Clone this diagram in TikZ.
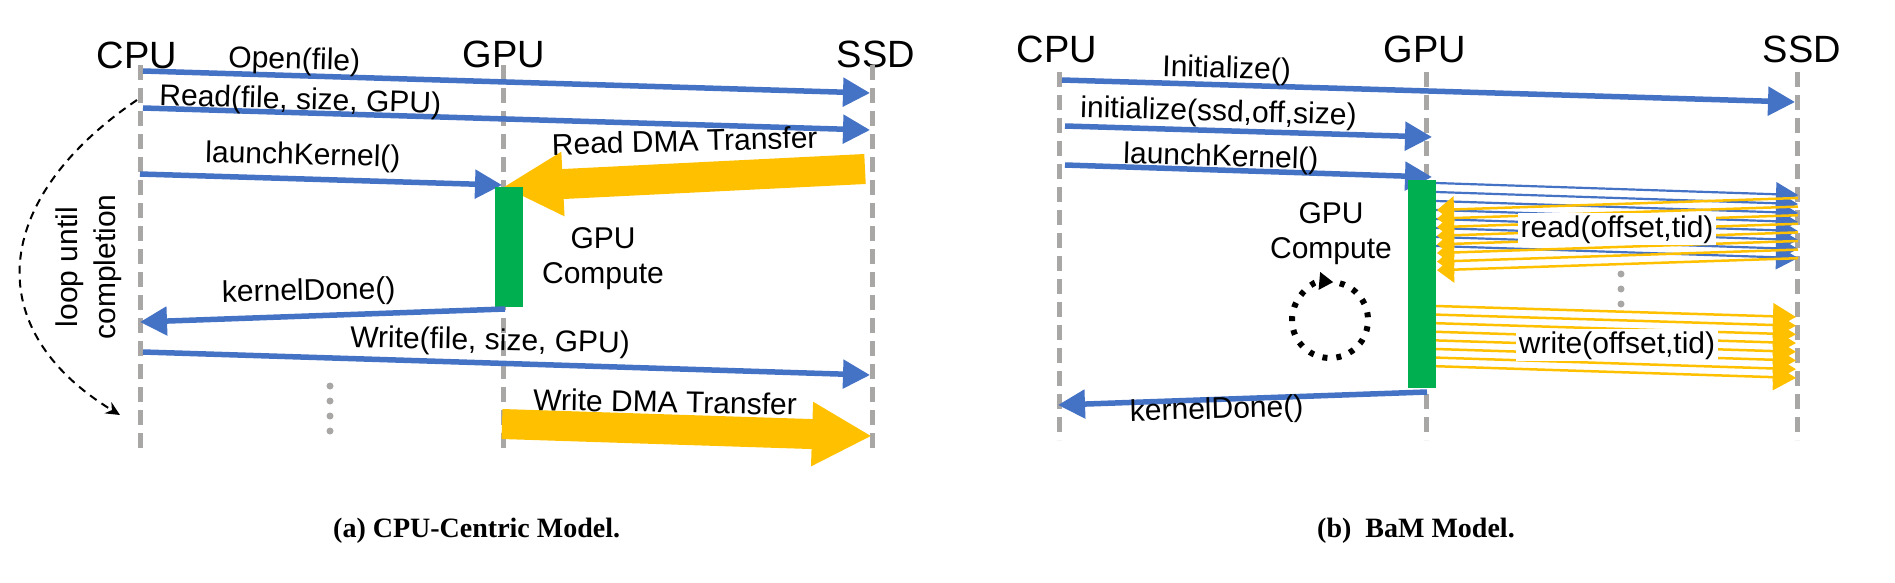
\documentclass[tikz,border=0pt]{standalone}
\usepackage{fontspec}
\setmainfont{Liberation Sans}
\newfontfamily\capfont{Liberation Serif}
\usetikzlibrary{arrows.meta}
\definecolor{mblue}{HTML}{4472C4}
\definecolor{myellow}{HTML}{FFC000}
\definecolor{mgreen}{HTML}{00B050}
\definecolor{lgray}{HTML}{A9A6A6}
\begin{document}
\begin{tikzpicture}[x=1pt,y=-1pt,
  life/.style={draw=lgray, line width=5pt, dash pattern=on 15pt off 8pt},
  msg/.style={draw=mblue, line width=5.5pt, -{Triangle[length=27pt,width=28pt]}},
  bigarrow/.style={draw=myellow, line width=30pt, -{Triangle[length=60pt,width=60pt]}},
  thinblue/.style={draw=mblue, line width=2.2pt, -{Triangle[length=22pt,width=24pt]}},
  thinyelr/.style={draw=myellow, line width=2.5pt, -{Triangle[length=17pt,width=26pt]}},
  thinyelw/.style={draw=myellow, line width=2.5pt, -{Triangle[length=23pt,width=26pt]}},
  lbl/.style={font=\fontsize{30}{36}\selectfont, inner sep=0pt, anchor=base west},
  clbl/.style={font=\fontsize{30}{36}\selectfont, inner sep=0pt, anchor=base},
  boxlbl/.style={font=\fontsize{30}{36}\selectfont, fill=white, inner xsep=3pt, inner ysep=2pt, anchor=base},
  head/.style={font=\fontsize{38}{44}\selectfont, inner sep=0pt, anchor=base},
  gbar/.style={fill=mgreen, inner sep=0pt, minimum width=28pt},
  dotc/.style={fill=lgray, circle, inner sep=0pt, minimum size=7pt},
  loopa/.style={draw=black, line width=2pt, dash pattern=on 8pt off 6pt, -{Stealth[length=14pt,width=13pt]}},
  loopc/.style={draw=black, line width=6pt, dash pattern=on 5pt off 9pt, -{Triangle[length=14pt,width=17pt]}},
  caption/.style={font=\capfont\bfseries\fontsize{28}{34}\selectfont, inner sep=0pt, anchor=base west}
]
\useasboundingbox (0,0) rectangle (1895,582);

% ---------------- panel (a) ----------------
\node[head] (hCa) at (137,68) {CPU};
\node[head] (hGa) at (504,67) {GPU};
\node[head] (hSa) at (876,67) {SSD};
\coordinate (aCt) at (140,65); \coordinate (aCb) at (140,452);
\coordinate (aGt) at (503,65); \coordinate (aGb) at (503,452);
\coordinate (aSt) at (872,65); \coordinate (aSb) at (872,452);
\draw[life] (aCt) -- (aCb);
\draw[life] (aGt) -- (aGb);
\draw[life] (aSt) -- (aSb);

\coordinate (o1) at (143,71);  \coordinate (o2) at (870,93);
\coordinate (r1) at (143,108); \coordinate (r2) at (870,130);
\coordinate (l1) at (140,174); \coordinate (l2) at (502,185);
\coordinate (d1) at (865,169); \coordinate (d2) at (503,187);
\coordinate (k1) at (505,309); \coordinate (k2) at (140,322);
\coordinate (w1) at (143,352); \coordinate (w2) at (870,375);
\coordinate (e1) at (502,424); \coordinate (e2) at (872,436);
\coordinate (lp1) at (137,100); \coordinate (lp2) at (120,415);

\draw[msg] (o1) -- (o2);
\draw[msg] (r1) -- (r2);
\draw[msg] (l1) -- (l2);
\draw[bigarrow] (d1) -- (d2);
\node[gbar, minimum height=120pt] (gA) at (509,247) {};
\draw[msg] (k1) -- (k2);
\draw[msg] (w1) -- (w2);
\draw[bigarrow] (e1) -- (e2);
\draw[loopa] (lp1) .. controls (-10,200) and (-20,330) .. (lp2);

\node[lbl, rotate=-1.7] (tOpen) at (228,67) {Open(file)};
\node[lbl, rotate=-1.7] (tRead) at (159,105) {Read(file, size, GPU)};
\node[lbl, rotate=-1.5] (tLaunchA) at (205,162) {launchKernel()};
\node[lbl, rotate=1.5] (tRdma) at (552,155) {Read DMA Transfer};
\node[clbl] (tGpuA) at (603,248) {GPU};
\node[clbl] (tCompA) at (603,283) {Compute};
\node[lbl, rotate=1.2] (tDoneA) at (222,302) {kernelDone()};
\node[lbl, rotate=-1.2] (tWrite) at (350,347) {Write(file, size, GPU)};
\node[lbl, rotate=-1.1] (tWdma) at (533,410) {Write DMA Transfer};
\node[font=\fontsize{30}{38}\selectfont, align=center, rotate=90, inner sep=0pt] (tLoop) at (89,267) {loop until\\completion};

\node[dotc] (da1) at (330,386) {};
\node[dotc] (da2) at (330,401) {};
\node[dotc] (da3) at (330,416) {};
\node[dotc] (da4) at (330,431) {};

% ---------------- panel (b) ----------------
\node[head] (hCb) at (1057,62) {CPU};
\node[head] (hGb) at (1425,62) {GPU};
\node[head] (hSb) at (1802,62) {SSD};
\coordinate (bCt) at (1059,72); \coordinate (bCb) at (1059,440);
\coordinate (bGt) at (1426,72); \coordinate (bGb) at (1426,440);
\coordinate (bSt) at (1797,72); \coordinate (bSb) at (1797,440);
\draw[life] (bCt) -- (bCb);
\draw[life] (bGt) -- (bGb);
\draw[life] (bSt) -- (bSb);

\coordinate (i1) at (1062,80);  \coordinate (i2) at (1795,102);
\coordinate (j1) at (1065,126); \coordinate (j2) at (1432,137);
\coordinate (m1) at (1065,165); \coordinate (m2) at (1432,177);
\coordinate (n1) at (1427,392); \coordinate (n2) at (1058,405);

\draw[msg] (i1) -- (i2);
\draw[msg] (j1) -- (j2);
\draw[msg] (m1) -- (m2);
\node[gbar, minimum height=208pt] (gB) at (1422,284) {};
\draw[msg] (n1) -- (n2);

\foreach \k in {0,...,7} {
  \coordinate (rbs\k) at (1436,{183+9*\k});
  \coordinate (rbe\k) at (1798,{195+9*\k});
  \draw[thinblue] (rbs\k) -- (rbe\k);
}
\foreach \k in {0,...,7} {
  \coordinate (rys\k) at (1798,{198+8.6*\k});
  \coordinate (rye\k) at (1437,{210+8.6*\k});
  \draw[thinyelr] (rys\k) -- (rye\k);
}
\foreach \k in {0,...,7} {
  \coordinate (wys\k) at (1436,{306+8.6*\k});
  \coordinate (wye\k) at (1796,{317+8.7*\k});
  \draw[thinyelw] (wys\k) -- (wye\k);
}

\node[boxlbl] (tRd) at (1617,237) {read(offset,tid)};
\node[boxlbl] (tWr) at (1617,353) {write(offset,tid)};

\node[dotc] (db1) at (1621,274) {};
\node[dotc] (db2) at (1621,289) {};
\node[dotc] (db3) at (1621,304) {};

\coordinate (lc) at (1330,320);
\draw[loopc] ([shift={(75:38pt)}]lc) arc[start angle=75, end angle=-275, radius=38pt];

\node[lbl, rotate=-1.7] (tInit) at (1162,76) {Initialize()};
\node[lbl, rotate=-1.7] (tInit2) at (1080,117) {initialize(ssd,off,size)};
\node[lbl, rotate=-1.7] (tLaunchB) at (1123,163) {launchKernel()};
\node[clbl] (tGpuB) at (1331,223) {GPU};
\node[clbl] (tCompB) at (1331,258) {Compute};
\node[lbl, rotate=1.5] (tDoneB) at (1130,421) {kernelDone()};

% captions
\node[caption] (capA) at (333,537) {(a) CPU-Centric Model.};
\node[caption] (capB) at (1317,537) {(b)\ \ BaM Model.};
\end{tikzpicture}
\end{document}
